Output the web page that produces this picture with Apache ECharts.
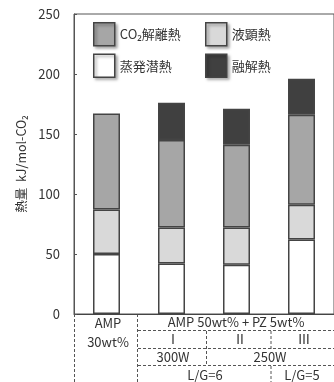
<!DOCTYPE html>
<html>
<head>
<meta charset="utf-8">
<script src="https://cdn.jsdelivr.net/npm/echarts@6/dist/echarts.min.js"></script>
<style>
html, body { margin: 0; padding: 0; background: #fff; }
#main { width: 334px; height: 382px; }
</style>
</head>
<body>
<div id="main"></div>
<script>
var categories = ['AMP 30wt%', 'I 300W L/G=6', 'II 250W L/G=6', 'III 250W L/G=5'];
var evap = [50, 42, 41, 62];      // 蒸発潜熱
var liquid = [37, 30, 31, 29];    // 液顕熱
var co2 = [80, 73, 69, 75];       // CO2解離熱
var melt = [null, 31, 30, 30];    // 融解熱
var yTicks = [0, 50, 100, 150, 200, 250];

var FONT = '"Noto Sans CJK JP", "Noto Sans", sans-serif';
var TXT = '#333';
var chart = echarts.init(document.getElementById('main'));

function barSeries(name, data, color) {
    return {
        name: name,
        type: 'bar',
        stack: 'heat',
        barWidth: 27,
        data: data,
        itemStyle: {
            color: color,
            borderColor: '#444',
            borderWidth: 1.5
        }
    };
}

function dash(x1, y1, x2, y2) {
    return {
        type: 'line',
        shape: { x1: x1, y1: y1, x2: x2, y2: y2 },
        style: { stroke: '#555', lineWidth: 1, lineDash: [3, 2] },
        silent: true
    };
}
function label(text, x, y) {
    return {
        type: 'text',
        x: x,
        y: y,
        style: {
            text: text,
            fill: TXT,
            fontSize: 13,
            fontFamily: FONT,
            align: 'center',
            verticalAlign: 'middle'
        },
        silent: true
    };
}

var legendBase = {
    orient: 'vertical',
    top: 22,
    padding: 0,
    icon: 'rect',
    itemWidth: 21,
    itemHeight: 23,
    itemGap: 7,
    textStyle: { color: TXT, fontSize: 13, fontFamily: FONT },
    itemStyle: {
        borderColor: '#444',
        borderWidth: 1.5,
        shadowBlur: 3,
        shadowColor: 'rgba(0,0,0,0.35)',
        shadowOffsetX: 2,
        shadowOffsetY: 2
    }
};

chart.setOption({
    animation: false,
    textStyle: { fontFamily: FONT },
    grid: {
        left: 74, right: -3, top: 14, bottom: 68,
        show: true, borderColor: '#555', borderWidth: 1
    },
    legend: [
        Object.assign({}, legendBase, { left: 93, data: ['CO₂解離熱', '蒸発潜熱'] }),
        Object.assign({}, legendBase, { left: 205, data: ['液顕熱', '融解熱'] })
    ],
    xAxis: {
        type: 'category',
        data: categories,
        axisLine: { lineStyle: { color: '#444', width: 1 } },
        axisTick: { show: false },
        axisLabel: { show: false }
    },
    yAxis: {
        type: 'value',
        min: yTicks[0],
        max: yTicks[yTicks.length - 1],
        interval: 50,
        name: '熱量  kJ/mol-CO₂',
        nameLocation: 'middle',
        nameGap: 46,
        nameTextStyle: { color: TXT, fontSize: 12.5, fontFamily: FONT },
        axisLine: { show: true, lineStyle: { color: '#555' } },
        axisTick: { show: true, inside: true, length: 3, lineStyle: { color: '#555' } },
        axisLabel: { color: TXT, fontSize: 13, margin: 14 },
        splitLine: { show: false }
    },
    series: [
        barSeries('蒸発潜熱', evap, '#ffffff'),
        barSeries('液顕熱', liquid, '#d9d9d9'),
        barSeries('CO₂解離熱', co2, '#a6a6a6'),
        barSeries('融解熱', melt, '#404040')
    ],
    graphic: [
        dash(74.5, 314, 74.5, 382),
        dash(137.5, 314, 137.5, 382),
        dash(138, 330.5, 334, 330.5),
        dash(138, 348.5, 334, 348.5),
        dash(138, 365.5, 334, 365.5),
        dash(206.5, 331, 206.5, 366),
        dash(271, 331, 271, 349),
        dash(271, 366, 271, 382),
        label('AMP', 108, 323),
        label('30wt%', 108, 342),
        label('AMP 50wt% + PZ 5wt%', 236, 322),
        label('Ⅰ', 173, 339),
        label('Ⅱ', 240, 339),
        label('Ⅲ', 304, 339),
        label('300W', 173, 357),
        label('250W', 270, 357),
        label('L/G=6', 205, 375),
        label('L/G=5', 302, 375)
    ]
});
</script>
</body>
</html>
